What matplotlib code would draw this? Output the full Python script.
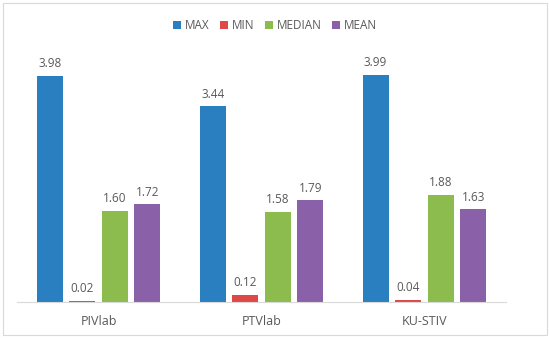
import numpy as np
import matplotlib.pyplot as plt
from matplotlib.patches import Rectangle

categories = ["PIVlab", "PTVlab", "KU-STIV"]
series = ["MAX", "MIN", "MEDIAN", "MEAN"]
max_vals = [3.98, 3.44, 3.99]
min_vals = [0.02, 0.12, 0.04]
median_vals = [1.60, 1.58, 1.88]
mean_vals = [1.72, 1.79, 1.63]
colors = ["#2a7fc1", "#e04848", "#8cbb4e", "#8a61a8"]

plt.rcParams['font.family'] = ['Open Sans', 'DejaVu Sans']

fig = plt.figure(figsize=(5.5, 3.38), dpi=100)
ax = fig.add_axes([0.031, 0.1065, 0.889, 0.757])
fig.patches.append(Rectangle((0.006, 0.008), 0.988, 0.984, transform=fig.transFigure,
                             fill=False, edgecolor="#d9d9d9", linewidth=0.8))

index = np.arange(len(categories))
step = 0.2
width = 0.16
data = [max_vals, min_vals, median_vals, mean_vals]
for i, (name, vals, c) in enumerate(zip(series, data, colors)):
    pos = index + (i - 1.5) * step
    bars = ax.bar(pos, vals, width=width, color=c, label=name)
    for b, v in zip(bars, vals):
        ax.text(b.get_x() + b.get_width() / 2, v + 0.1, "%.2f" % v,
                ha="center", va="bottom", fontsize=8.5, color="#595959")

ax.set_xlim(-0.5, 2.5)
ax.set_ylim(0, 4.5)
ax.set_xticks(index)
ax.set_xticklabels(categories, fontsize=9, color="#595959")
ax.tick_params(axis="x", length=0, pad=9)
ax.set_yticks([])
for s in ["top", "right", "left"]:
    ax.spines[s].set_visible(False)
ax.spines["bottom"].set_color("#d9d9d9")

fig.legend(loc="upper center", bbox_to_anchor=(0.5, 0.975), ncol=4, frameon=False,
           fontsize=8.5, handlelength=0.7, handleheight=0.7, handletextpad=0.3,
           columnspacing=0.9, labelcolor="#595959")

fig.savefig("out.png", dpi=100)
